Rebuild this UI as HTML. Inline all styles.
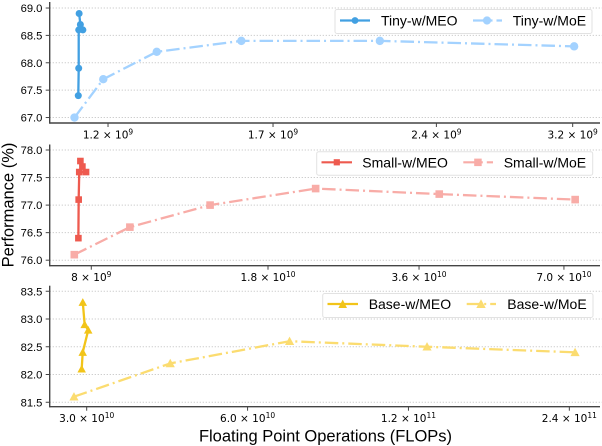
<!DOCTYPE html>
<html lang="en">
<head>
<meta charset="utf-8">
<title>Performance vs FLOPs</title>
<style>
html,body{margin:0;padding:0;background:#fff;}
svg{display:block;}
text{font-family:"Liberation Sans",sans-serif;fill:#000;}
.xt{font-family:"DejaVu Sans",sans-serif;font-size:10.5px;text-anchor:middle;}
.yt{font-size:11.2px;text-anchor:end;}
.lg{font-size:14px;}
.at{font-size:16.5px;}
</style>
</head>
<body>
<svg id="chart" width="602" height="446" viewBox="0 0 602 446" xmlns="http://www.w3.org/2000/svg">
  <g id="plots"></g>

  <g>
    <rect x="335" y="9.5" width="257" height="24" rx="2" fill="#fff" fill-opacity="0.9" stroke="#e2e2e2" stroke-width="1"/>
    <g>
      <line x1="340" x2="370" y1="20.5" y2="20.5" stroke="#42a0e2" stroke-width="2.2"/>
      <circle cx="355" cy="20.5" r="3.4" fill="#42a0e2"/>
      <text class="lg" x="381" y="25.7">Tiny-w/MEO</text>
    </g>
    <g>
      <line x1="473" x2="502" y1="20.5" y2="20.5" stroke="#a3d2ff" stroke-width="2.2" stroke-dasharray="13.5 4 2 4"/>
      <circle cx="487" cy="20.5" r="4.1" fill="#a3d2ff"/>
      <text class="lg" x="512.7" y="25.7">Tiny-w/MoE</text>
    </g>
  </g>

  <g>
    <rect x="316.7" y="151.7" width="276" height="23.5" rx="2" fill="#fff" fill-opacity="0.9" stroke="#e2e2e2" stroke-width="1"/>
    <g>
      <line x1="321.5" x2="352" y1="162.3" y2="162.3" stroke="#ee5a4f" stroke-width="2.2"/>
      <rect x="333.7" y="159.2" width="6.2" height="6.2" fill="#ee5a4f"/>
      <text class="lg" x="362.3" y="167.5">Small-w/MEO</text>
    </g>
    <g>
      <line x1="463.3" x2="493" y1="162.3" y2="162.3" stroke="#f8aca7" stroke-width="2.2" stroke-dasharray="13.5 4 2 4"/>
      <rect x="474.2" y="158.6" width="7.5" height="7.5" fill="#f8aca7"/>
      <text class="lg" x="503.7" y="167.5">Small-w/MoE</text>
    </g>
  </g>

  <g>
    <rect x="322.7" y="293.5" width="270.3" height="24" rx="2" fill="#fff" fill-opacity="0.9" stroke="#e2e2e2" stroke-width="1"/>
    <g>
      <line x1="327.5" x2="358" y1="304" y2="304" stroke="#f2c419" stroke-width="2.2"/>
      <polygon points="342.7,299.5 347,308 338.4,308" fill="#f2c419"/>
      <text class="lg" x="368.7" y="309.2">Base-w/MEO</text>
    </g>
    <g>
      <line x1="466.7" x2="496" y1="304" y2="304" stroke="#fbdc70" stroke-width="2.2" stroke-dasharray="13.5 4 2 4"/>
      <polygon points="481,299.2 485.7,308 476.3,308" fill="#fbdc70"/>
      <text class="lg" x="507.3" y="309.2">Base-w/MoE</text>
    </g>
  </g>

  <text class="at" text-anchor="middle" transform="translate(13.5,205) rotate(-90)">Performance (%)</text>
  <text class="at" text-anchor="middle" x="325.5" y="441.5">Floating Point Operations (FLOPs)</text>
</svg>
<script>
// Tiny panel data
const tinyMeoFlops = [1.127e9, 1.128e9, 1.128e9, 1.138e9, 1.132e9, 1.129e9];
const tinyMeoPerf = [67.4, 67.9, 68.6, 68.6, 68.7, 68.9];
const tinyMoeFlops = [1.118e9, 1.188e9, 1.33e9, 1.59e9, 2.13e9, 3.21e9];
const tinyMoePerf = [67.0, 67.7, 68.2, 68.4, 68.4, 68.3];
const tinyXTicks = [1.2e9, 1.7e9, 2.4e9, 3.2e9];
const tinyXMantissas = ['1.2', '1.7', '2.4', '3.2'];
const tinyXExponents = ['9', '9', '9', '9'];
const tinyYTicks = [67.0, 67.5, 68.0, 68.5, 69.0];
const tinyXDomain = [1.061e9, 3.39e9];
const tinyYDomain = [66.9, 69.11];

// Small panel data
const smallMeoFlops = [7.54e9, 7.55e9, 7.57e9, 7.81e9, 7.68e9, 7.61e9];
const smallMeoPerf = [76.4, 77.1, 77.6, 77.6, 77.7, 77.8];
const smallMoeFlops = [7.4e9, 9.55e9, 1.38e10, 2.24e10, 3.95e10, 7.37e10];
const smallMoePerf = [76.1, 76.6, 77.0, 77.3, 77.2, 77.1];
const smallXTicks = [8e9, 1.8e10, 3.6e10, 7e10];
const smallXMantissas = ['8', '1.8', '3.6', '7.0'];
const smallXExponents = ['9', '10', '10', '10'];
const smallYTicks = [76.0, 76.5, 77.0, 77.5, 78.0];
const smallXDomain = [6.61e9, 8.26e10];
const smallYDomain = [75.9, 78.1];

// Base panel data
const baseMeoFlops = [2.936e10, 2.949e10, 3.02e10, 2.974e10, 2.95e10];
const baseMeoPerf = [82.1, 82.4, 82.8, 82.9, 83.3];
const baseMoeFlops = [2.84e10, 4.30e10, 7.19e10, 1.30e11, 2.46e11];
const baseMoePerf = [81.6, 82.2, 82.6, 82.5, 82.4];
const baseXTicks = [3e10, 6e10, 1.2e11, 2.4e11];
const baseXMantissas = ['3.0', '6.0', '1.2', '2.4'];
const baseXExponents = ['10', '10', '11', '11'];
const baseYTicks = [81.5, 82.0, 82.5, 83.0, 83.5];
const baseXDomain = [2.558e10, 2.739e11];
const baseYDomain = [81.42, 83.6];

const NS = 'http://www.w3.org/2000/svg';
const plots = document.getElementById('plots');

function mk(parent, tag, attrs) {
  const el = document.createElementNS(NS, tag);
  for (const k in attrs) el.setAttribute(k, attrs[k]);
  parent.appendChild(el);
  return el;
}

function drawMarker(g, shape, cx, cy, s, color) {
  if (shape === 'circle') {
    return mk(g, 'circle', {cx: cx, cy: cy, r: s, fill: color});
  }
  if (shape === 'square') {
    return mk(g, 'rect', {x: cx - s, y: cy - s, width: 2 * s, height: 2 * s, fill: color});
  }
  return mk(g, 'polygon', {
    points: cx + ',' + (cy - s * 1.15) + ' ' + (cx + s * 1.15) + ',' + (cy + s * 0.95) + ' ' + (cx - s * 1.15) + ',' + (cy + s * 0.95),
    fill: color
  });
}

function drawSeries(g, name, xs, ys, sx, sy, style) {
  const sg = mk(g, 'g', {});
  
  
  const pts = xs.map(function (v, i) { return sx(v).toFixed(2) + ',' + sy(ys[i]).toFixed(2); }).join(' ');
  const line = mk(sg, 'polyline', {
    points: pts, fill: 'none', stroke: style.color, 'stroke-width': style.width, 'stroke-linejoin': 'round'
  });
  if (style.dash) line.setAttribute('stroke-dasharray', style.dash);
  
  
  xs.forEach(function (v, i) {
    const m = drawMarker(sg, style.shape, sx(v), sy(ys[i]), style.size, style.color);
    
    
  });
}

function drawPanel(p) {
  const left = 49.7, right = 600;
  const g = mk(plots, 'g', {});
  
  

  const sx = function (v) {
    return left + (right - left) * Math.log(v / p.xDomain[0]) / Math.log(p.xDomain[1] / p.xDomain[0]);
  };
  const sy = function (v) {
    return p.bottom - (p.bottom - p.top) * (v - p.yDomain[0]) / (p.yDomain[1] - p.yDomain[0]);
  };

  p.yTicks.forEach(function (t) {
    const y = sy(t);
    const grid = mk(g, 'line', {x1: left, x2: 602, y1: y, y2: y, stroke: '#c9c9c9', 'stroke-width': 1, 'stroke-dasharray': '1.2 1.8'});
    
    
    const tick = mk(g, 'line', {x1: left - 4, x2: left, y1: y, y2: y, stroke: '#444', 'stroke-width': 1});
    
    
    const label = mk(g, 'text', {class: 'yt', x: left - 7.3, y: y + 4});
    
    
    label.textContent = t.toFixed(1);
  });

  p.xTicks.forEach(function (t, i) {
    const x = sx(t);
    const tick = mk(g, 'line', {x1: x, x2: x, y1: p.bottom, y2: p.bottom + 4, stroke: '#444', 'stroke-width': 1});
    
    
    const label = mk(g, 'text', {class: 'xt', x: x, y: p.bottom + 15.5});
    
    
    const a = mk(label, 'tspan', {});
    a.textContent = p.xMantissas[i] + ' \u00d7 10';
    const b = mk(label, 'tspan', {dy: -4, 'font-size': '7.5px'});
    b.textContent = p.xExponents[i];
  });

  const spineL = mk(g, 'line', {x1: left, x2: left, y1: p.top, y2: p.bottom + 0.7, stroke: '#444', 'stroke-width': 1.4});
  
  
  const spineB = mk(g, 'line', {x1: left, x2: right, y1: p.bottom, y2: p.bottom, stroke: '#444', 'stroke-width': 1.4});
  
  

  drawSeries(g, p.name + '-meo-series', p.meoX, p.meoY, sx, sy, {color: p.meoColor, width: 2.3, shape: p.shape, size: p.meoSize});
  drawSeries(g, p.name + '-moe-series', p.moeX, p.moeY, sx, sy, {color: p.moeColor, width: 2.3, dash: '13.5 4 2 4', shape: p.shape, size: p.moeSize});
}

drawPanel({
  name: 'tiny', top: 2, bottom: 123,
  xDomain: tinyXDomain, yDomain: tinyYDomain,
  xTicks: tinyXTicks, xMantissas: tinyXMantissas, xExponents: tinyXExponents, yTicks: tinyYTicks,
  meoX: tinyMeoFlops, meoY: tinyMeoPerf, moeX: tinyMoeFlops, moeY: tinyMoePerf,
  meoColor: '#42a0e2', moeColor: '#a3d2ff', shape: 'circle', meoSize: 3.5, moeSize: 4.2
});
drawPanel({
  name: 'small', top: 144.5, bottom: 265.7,
  xDomain: smallXDomain, yDomain: smallYDomain,
  xTicks: smallXTicks, xMantissas: smallXMantissas, xExponents: smallXExponents, yTicks: smallYTicks,
  meoX: smallMeoFlops, meoY: smallMeoPerf, moeX: smallMoeFlops, moeY: smallMoePerf,
  meoColor: '#ee5a4f', moeColor: '#f8aca7', shape: 'square', meoSize: 3.3, moeSize: 3.8
});
drawPanel({
  name: 'base', top: 285.7, bottom: 406.7,
  xDomain: baseXDomain, yDomain: baseYDomain,
  xTicks: baseXTicks, xMantissas: baseXMantissas, xExponents: baseXExponents, yTicks: baseYTicks,
  meoX: baseMeoFlops, meoY: baseMeoPerf, moeX: baseMoeFlops, moeY: baseMoePerf,
  meoColor: '#f2c419', moeColor: '#fbdc70', shape: 'triangle', meoSize: 3.7, moeSize: 4
});
</script>
</body>
</html>
